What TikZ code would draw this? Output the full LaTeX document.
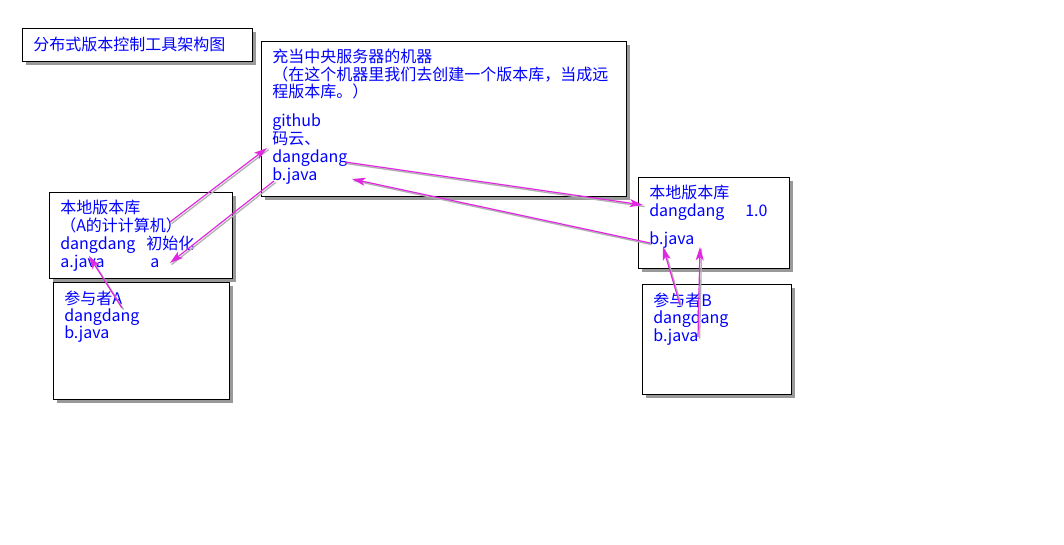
\documentclass[tikz,border=0pt]{standalone}
\usepackage{fontspec}
\setmainfont{Noto Sans CJK SC}
\usetikzlibrary{arrows.meta,shadows}
\definecolor{pushpink}{RGB}{224,40,224}
\definecolor{textblue}{RGB}{0,0,255}
\tikzset{
  panel/.style={draw, line width=1pt, fill=white, anchor=north west, inner sep=0pt,
    drop shadow={shadow xshift=2.5pt, shadow yshift=-2.5pt, fill=black, opacity=0.4}},
  txt/.style={anchor=base west, inner sep=0pt, text=textblue,
    font=\fontsize{12pt}{13pt}\selectfont},
  push/.style={pushpink, line width=0.9pt, -{Stealth[length=10pt, width=6pt, inset=2.5pt]},
    preaction={draw=black!30, line width=1pt, -, transform canvas={shift={(1.2pt,-1.2pt)}}}}
}
\newcommand{\Panel}[5]{
  \node [panel, minimum width=#4*0.75pt, minimum height=#5*0.75pt] (#1) at (#2, #3) {};
}
\newcommand{\TextLine}[4]{
  \node [txt] (#1) at (#2, #3) {#4};
}
\newcommand{\Push}[2]{
  \draw [push] (#1) -- (#2);
}

\begin{document}
\begin{tikzpicture}[x=0.75pt, y=-0.75pt]
  \useasboundingbox [fill=white] (0, 0) rectangle (1064, 545);

  % boxes
  \Panel{title}{22}{28}{230}{33}
  \Panel{server}{261}{41}{365}{155}
  \Panel{localA}{49}{192}{183}{86}
  \Panel{userA}{53}{282}{176}{117}
  \Panel{localB}{638}{177}{151}{91}
  \Panel{userB}{642}{284}{149}{110}

  % title
  \TextLine{titleTxt}{33}{51}{分布式版本控制工具架构图}

  % central server
  \TextLine{srvHead}{272}{63}{充当中央服务器的机器}
  \TextLine{srvNoteA}{272}{81}{（在这个机器里我们去创建一个版本库，当成远}
  \TextLine{srvNoteB}{272}{98}{程版本库。）}
  \TextLine{srvGit}{272}{127}{github}
  \TextLine{srvYun}{272}{145}{码云、}
  \TextLine{srvRepo}{272}{163}{dangdang}
  \TextLine{srvFile}{272}{181}{b.java}

  % local repo A
  \TextLine{lAHead}{60}{214}{本地版本库}
  \TextLine{lAHost}{60}{232}{（A的计计算机）}
  \TextLine{lARepo}{60}{250}{dangdang}
  \TextLine{lAInit}{146}{250}{初始化}
  \TextLine{lAFile}{60}{268}{a.java}
  \TextLine{lAMark}{150}{268}{a}

  % participant A
  \TextLine{uAHead}{64}{305}{参与者A}
  \TextLine{uARepo}{64}{322}{dangdang}
  \TextLine{uAFile}{64}{339}{b.java}

  % local repo B
  \TextLine{lBHead}{649}{199}{本地版本库}
  \TextLine{lBRepo}{649}{217}{dangdang}
  \TextLine{lBVer}{745}{217}{1.0}
  \TextLine{lBFile}{649}{245}{b.java}

  % participant B
  \TextLine{uBHead}{653}{307}{参与者B}
  \TextLine{uBRepo}{653}{324}{dangdang}
  \TextLine{uBFile}{653}{342}{b.java}

  % arrow ends
  \coordinate (hostEnd) at (170, 222);
  \coordinate (yunIn) at (267, 148);
  \coordinate (fileOut) at (274, 181);
  \coordinate (markIn) at (170, 263);
  \coordinate (uAOut) at (122, 308);
  \coordinate (aFileIn) at (89, 256);
  \coordinate (repoOut) at (345, 162);
  \coordinate (lBIn) at (643, 205);
  \coordinate (lBOut) at (650, 243);
  \coordinate (srvIn) at (352, 179);
  \coordinate (uBOut) at (680, 305);
  \coordinate (lBFileIn) at (663, 247);
  \coordinate (uBFileOut) at (698, 337);
  \coordinate (lBGapIn) at (700, 247);

  \Push{hostEnd}{yunIn}
  \Push{fileOut}{markIn}
  \Push{uAOut}{aFileIn}
  \Push{repoOut}{lBIn}
  \Push{lBOut}{srvIn}
  \Push{uBOut}{lBFileIn}
  \Push{uBFileOut}{lBGapIn}

\end{tikzpicture}
\end{document}
